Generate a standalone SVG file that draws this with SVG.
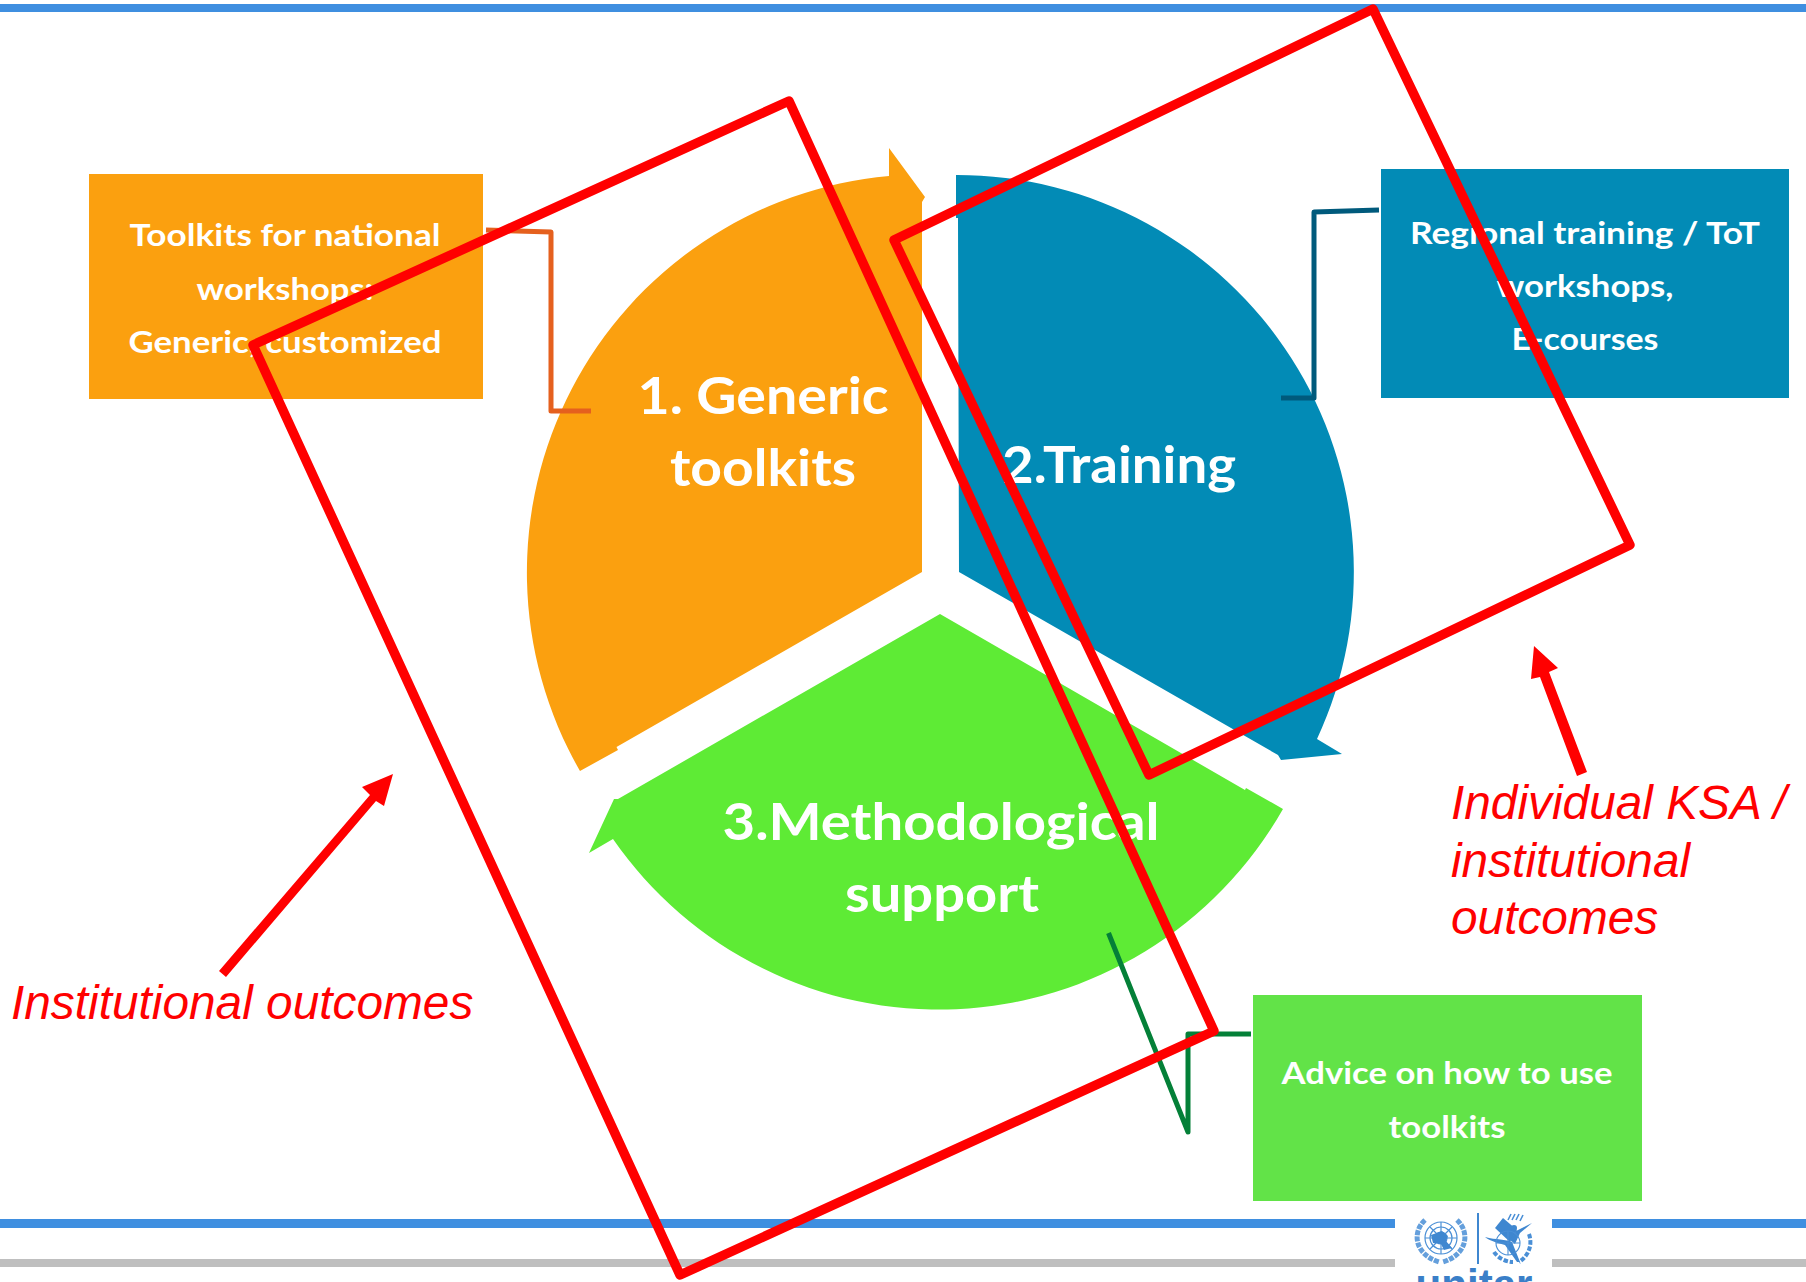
<svg xmlns="http://www.w3.org/2000/svg" width="1806" height="1282" viewBox="0 0 1806 1282">
<style>
.w{font-family:Lato,"Liberation Sans",sans-serif;font-weight:700;fill:#fff;text-anchor:middle}
.s{font-size:31px}
.b{font-size:52px}
.r{font-family:"Liberation Sans",Arial,sans-serif;font-style:italic;font-size:47.8px;fill:#f00}
.rp{fill:none;stroke:#f00;stroke-width:9.5;stroke-linejoin:round}
.c{fill:none;stroke-width:5;stroke-linejoin:round}
.l{fill:none;stroke:#4a8fd6}
.f{fill:#3f87d0}
</style>
<rect width="1806" height="1282" fill="#fff"/>
<g id="rules">
<rect x="0" y="4" width="1806" height="8" fill="#3f8fe0"/>
<rect x="0" y="1219" width="1806" height="9" fill="#3f8fe0"/>
<rect x="0" y="1259" width="1806" height="8" fill="#bfbfbf"/>
</g>
<g id="logo">
<rect x="1395" y="1205" width="157" height="77" fill="#fff"/>
<g class="l" stroke-width="1.2">
<circle cx="1441" cy="1238" r="16"/><circle cx="1441" cy="1238" r="11"/><circle cx="1441" cy="1238" r="6"/>
<path d="M1425 1238H1457M1441 1222V1254M1430 1227L1452 1249M1452 1227L1430 1249"/>
</g>
<path d="M1431 1235L1442 1231L1448 1236L1446 1241L1452 1248L1444 1250L1441 1244L1433 1243Z" class="f"/>
<g class="l" stroke-width="5" stroke-dasharray="5 1.2" opacity=".85">
<path d="M1425 1220C1412 1232 1414 1254 1439 1262"/><path d="M1457 1220C1470 1232 1468 1254 1443 1262"/>
</g>
<rect x="1477" y="1213" width="2" height="51" class="f"/>
<path d="M1503 1218L1495 1228L1510 1242L1517 1230Z" class="f"/>
<path d="M1508 1220L1511 1214M1512 1220L1515 1214M1516 1220L1519 1214M1520 1221L1523 1215" class="l" stroke-width="1.6"/>
<circle cx="1514" cy="1228" r="3" class="f"/>
<path d="M1485 1237C1496 1240 1506 1239 1512 1242L1520 1262L1517 1262L1505 1245C1498 1243 1490 1241 1485 1237Z" class="f"/>
<path d="M1510 1240L1516 1231L1532 1223L1520 1233L1515 1244Z" class="f"/>
<g class="l" stroke-width="1.1"><circle cx="1508" cy="1243" r="12"/><path d="M1496 1243H1520M1508 1231V1255"/></g>
<g class="l" stroke-width="4" stroke-dasharray="4.500 1.800">
<path d="M1494 1252C1498 1258 1506 1262 1513 1262"/><path d="M1529 1234C1533 1246 1528 1256 1519 1262"/>
</g>
<text x="1474" y="1299" text-anchor="middle" font-family="Liberation Sans,sans-serif" font-weight="700" font-size="42" fill="#3a7fc8" textLength="117" lengthAdjust="spacingAndGlyphs">unitar</text>
</g>
<g id="sector-orange">
<path d="M922 572L616.500 747L618 750L580 771A398 398 0 0 1 889 176V148L925 197L922 202Z" fill="#fba00f"/>
<text class="w b" x="763" y="414" textLength="251" lengthAdjust="spacingAndGlyphs">1. Generic</text>
<text class="w b" x="763" y="486" textLength="186" lengthAdjust="spacingAndGlyphs">toolkits</text>
</g>
<g id="sector-blue">
<path d="M956 175A397 397 0 0 1 1317 739L1342 754L1281 760L1278 755L959 572L958 218H956Z" fill="#028bb6"/>
<text class="w b" x="1119" y="483" textLength="234" lengthAdjust="spacingAndGlyphs">2.Training</text>
</g>
<g id="sector-green">
<path d="M940 614L1245 790L1246 788L1283 809A396 396 0 0 1 613 839L589 853L614 799H618Z" fill="#5eeb35"/>
<text class="w b" x="941" y="840" textLength="437" lengthAdjust="spacingAndGlyphs">3.Methodological</text>
<text class="w b" x="942" y="912" textLength="194" lengthAdjust="spacingAndGlyphs">support</text>
</g>
<g id="box-orange">
<rect x="89" y="174" width="394" height="225" fill="#fba00f"/>
<text class="w s" x="285" y="246" textLength="311" lengthAdjust="spacingAndGlyphs">Toolkits for national</text>
<text class="w s" x="285" y="300" textLength="177" lengthAdjust="spacingAndGlyphs">workshops:</text>
<text class="w s" x="285" y="353" textLength="313" lengthAdjust="spacingAndGlyphs">Generic, customized</text>
</g>
<g id="box-blue">
<rect x="1381" y="169" width="408" height="229" fill="#028bb6"/>
<text class="w s" x="1585" y="244" textLength="350" lengthAdjust="spacingAndGlyphs">Regional training / ToT</text>
<text class="w s" x="1585" y="297" textLength="177" lengthAdjust="spacingAndGlyphs">workshops,</text>
<text class="w s" x="1585" y="350" textLength="147" lengthAdjust="spacingAndGlyphs">E-courses</text>
</g>
<g id="box-green">
<rect x="1253" y="995" width="389" height="206" fill="#62e348"/>
<text class="w s" x="1447" y="1084" textLength="331" lengthAdjust="spacingAndGlyphs">Advice on how to use</text>
<text class="w s" x="1447" y="1138" textLength="117" lengthAdjust="spacingAndGlyphs">toolkits</text>
</g>
<g id="connectors">
<path class="c" stroke="#e5601e" d="M486 230L551 232V411H591"/>
<path class="c" stroke="#005a7c" d="M1379 210L1314 212V398H1281"/>
<path class="c" stroke="#048038" d="M1251 1034H1188V1132L1108.500 933"/>
<path class="rp" d="M789 101L1214 1031L680 1275L253 345Z"/>
<path class="rp" d="M1373 9L1630 545L1149 775L894 240Z"/>
<path d="M219 971L370 795L362 787L393 774L384 806L376 801L226 977Z" fill="#f00"/>
<path d="M1587 772L1549 672L1558 668L1534 646L1531 679L1540 677L1577 776Z" fill="#f00"/>
</g>
<g id="labels">
<text class="r" x="11" y="1019">Institutional outcomes</text>
<text class="r" x="1451" y="819">Individual KSA /</text>
<text class="r" x="1451" y="877">institutional</text>
<text class="r" x="1451" y="934">outcomes</text>
</g>
</svg>
